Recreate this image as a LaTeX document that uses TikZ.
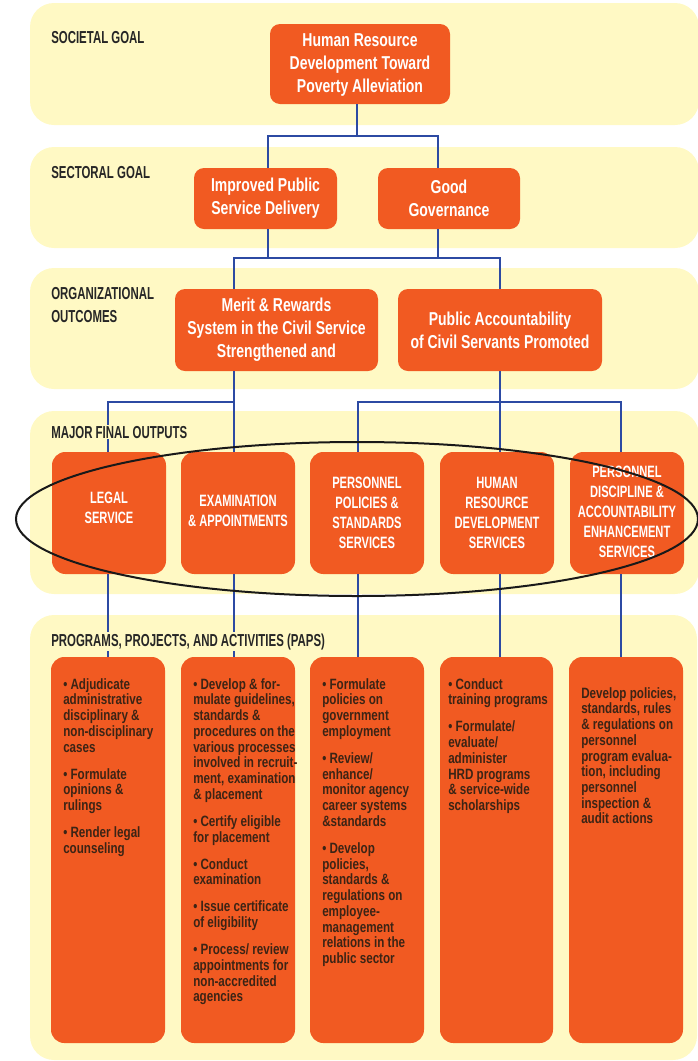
\documentclass[tikz,border=0pt]{standalone}
\usepackage{fontspec}
\usetikzlibrary{fit}
% condensed faces built from Liberation Sans
\newfontfamily\headfont{Liberation Sans}[FakeStretch=0.75]
\newfontfamily\capfont{Liberation Sans}[FakeStretch=0.68]
\newfontfamily\lblfont{Liberation Sans}[FakeStretch=0.66]
\newfontfamily\papfont{Liberation Sans}[FakeStretch=0.78]
\definecolor{bandyellow}{HTML}{FFF9C4}
\definecolor{orangebox}{HTML}{F15A22}
\definecolor{connblue}{HTML}{2C4AA3}
\definecolor{paptext}{HTML}{3C2415}
\tikzset{
  band/.style={fill=bandyellow, rounded corners=18pt},
  goalbox/.style={fill=orangebox, rounded corners=7.5pt, inner sep=0pt},
  goaltext/.style={inner sep=0pt, text=white, align=center,
    font=\headfont\bfseries\fontsize{14}{17.25}\selectfont},
  outbox/.style={fill=orangebox, rounded corners=10pt, inner sep=0pt},
  outtext/.style={inner sep=0pt, text=white, align=center,
    font=\capfont\bfseries\fontsize{12.3}{15}\selectfont},
  papbox/.style={fill=orangebox, rounded corners=10pt, inner sep=0pt},
  paplist/.style={anchor=north west, inner sep=0pt, text=paptext, align=left,
    font=\papfont\bfseries\fontsize{11.2}{11.8}\selectfont},
  tierlabel/.style={inner sep=0.75pt, align=left, text=black!85, fill=bandyellow,
    font=\lblfont\bfseries\fontsize{13}{17.25}\selectfont},
  conn/.style={draw=connblue, line width=1.5pt},
  ring/.style={draw=black!90, line width=1.5pt},
}
\begin{document}
\begin{tikzpicture}[x=0.75pt, y=-0.75pt]
\useasboundingbox (0,0) rectangle (698,1061);

% tier bands
\fill[band] (30,3) rectangle (699,125);
\fill[band] (30,147) rectangle (699,248);
\fill[band] (30,268) rectangle (699,389);
\fill[band] (30,411) rectangle (699,594);
\fill[band] (30,615) rectangle (697,1060);

% goals and outcomes
\node[goalbox, fit={(270,24) (450,104)},
  label={[goaltext, yshift=-1pt]center:Human Resource\\Development Toward\\Poverty Alleviation}] (goal) {};
\node[goalbox, fit={(194,168) (337,229)},
  label={[goaltext]center:Improved Public\\Service Delivery}] (service) {};
\node[goalbox, fit={(378,168) (520,229)},
  label={[goaltext]center:Good\\Governance}] (govern) {};
\node[goalbox, fit={(175,289) (378,371)},
  label={[goaltext]center:Merit \& Rewards\\System in the Civil Service\\Strengthened and}] (merit) {};
\node[goalbox, fit={(398,289) (602,371)},
  label={[goaltext]center:Public Accountability\\of Civil Servants Promoted}] (account) {};

% major final outputs
\node[outbox, fit={(52,452) (166,574)},
  label={[outtext, yshift=3.5pt]center:LEGAL\\SERVICE}] (o1) {};
\node[outbox, fit={(181,452) (295,574)},
  label={[outtext, yshift=1.5pt]center:EXAMINATION\\\& APPOINTMENTS}] (o2) {};
\node[outbox, fit={(310,452) (424,574)},
  label={[outtext]center:PERSONNEL\\POLICIES \&\\STANDARDS\\SERVICES}] (o3) {};
\node[outbox, fit={(440,452) (554,574)},
  label={[outtext]center:HUMAN\\RESOURCE\\DEVELOPMENT\\SERVICES}] (o4) {};
\node[outbox, fit={(570,452) (684,574)},
  label={[outtext, yshift=1pt]center:PERSONNEL\\DISCIPLINE \&\\ACCOUNTABILITY\\ENHANCEMENT\\SERVICES}] (o5) {};

% programs, projects and activities
\node[papbox, fit={(51,657) (165,1043)}] (p1) {};
\node[papbox, fit={(181,657) (295,1043)}] (p2) {};
\node[papbox, fit={(310,657) (424,1043)}] (p3) {};
\node[papbox, fit={(440,657) (553,1043)}] (p4) {};
\node[papbox, fit={(569,657) (683,1043)}] (p5) {};

% connector columns and bus levels
\coordinate (x108) at (108,0);
\coordinate (x234) at (234,0);
\coordinate (x268) at (268,0);
\coordinate (x357) at (357,0);
\coordinate (x358) at (358,0);
\coordinate (x438) at (438,0);
\coordinate (x500) at (500,0);
\coordinate (x621) at (621,0);
\coordinate (busA) at (0,136);
\coordinate (busB) at (0,258);
\coordinate (busC) at (0,402);

\draw[conn] (x357 |- goal.south) -- (x357 |- busA);
\draw[conn] (x268 |- service.north) -- (x268 |- busA) -- (x438 |- busA) -- (x438 |- govern.north);
\draw[conn] (x268 |- service.south) -- (x268 |- busB);
\draw[conn] (x438 |- govern.south) -- (x438 |- busB);
\draw[conn] (x234 |- merit.north) -- (x234 |- busB) -- (x500 |- busB) -- (x500 |- account.north);
\draw[conn] (x234 |- merit.south) -- (x234 |- o2.north);
\draw[conn] (x108 |- o1.north) -- (x108 |- busC) -- (x234 |- busC);
\draw[conn] (x500 |- account.south) -- (x500 |- o4.north);
\draw[conn] (x358 |- o3.north) -- (x358 |- busC) -- (x621 |- busC) -- (x621 |- o5.north);
\draw[conn] (x108 |- o1.south) -- (x108 |- p1.north);
\draw[conn] (x234 |- o2.south) -- (x234 |- p2.north);
\draw[conn] (x358 |- o3.south) -- (x358 |- p3.north);
\draw[conn] (x500 |- o4.south) -- (x500 |- p4.north);
\draw[conn] (x621 |- o5.south) -- (x621 |- p5.north);

% tier labels
\node[tierlabel, anchor=base west] (lsoc) at (50,43) {SOCIETAL GOAL};
\node[tierlabel, anchor=base west] (lsec) at (50,178) {SECTORAL GOAL};
\node[tierlabel, anchor=north west] (lorg) at (50,286.5) {ORGANIZATIONAL\\OUTCOMES};
\node[tierlabel, anchor=base west] (lmfo) at (50,438) {MAJOR FINAL OUTPUTS};
\node[tierlabel, anchor=base west] (lpap) at (50,646) {PROGRAMS, PROJECTS, AND ACTIVITIES (PAPS)};

% activity lists
\node[paplist] (t1) at (63,678) {%
• Adjudicate\\administrative\\disciplinary \&\\non-disciplinary\\cases\\[8.5pt]
• Formulate\\opinions \&\\rulings\\[8.5pt]
• Render legal\\counseling};
\node[paplist] (t2) at (193,678) {%
• Develop \& for-\\mulate guidelines,\\standards \&\\procedures on the\\various processes\\involved in recruit-\\ment, examination\\\& placement\\[8.5pt]
• Certify eligible\\for placement\\[8.5pt]
• Conduct\\examination\\[8.5pt]
• Issue certificate\\of eligibility\\[8.5pt]
• Process/ review\\appointments for\\non-accredited\\agencies};
\node[paplist] (t3) at (322,678) {%
• Formulate\\policies on\\government\\employment\\[8.5pt]
• Review/\\enhance/\\monitor agency\\career systems\\\&standards\\[8.5pt]
• Develop\\policies,\\standards \&\\regulations on\\employee-\\management\\relations in the\\public sector};
\node[paplist] (t4) at (448,678) {%
• Conduct\\training programs\\[8.5pt]
• Formulate/\\evaluate/\\administer\\HRD programs\\\& service-wide\\scholarships};
\node[paplist] (t5) at (581,687) {%
Develop policies,\\standards, rules\\\& regulations on\\personnel\\program evalua-\\tion, including\\personnel\\inspection \&\\audit actions};

% ring around the major final outputs
\draw[ring] (357,519) ellipse [x radius=255.75pt, y radius=57.75pt];
\end{tikzpicture}
\end{document}
